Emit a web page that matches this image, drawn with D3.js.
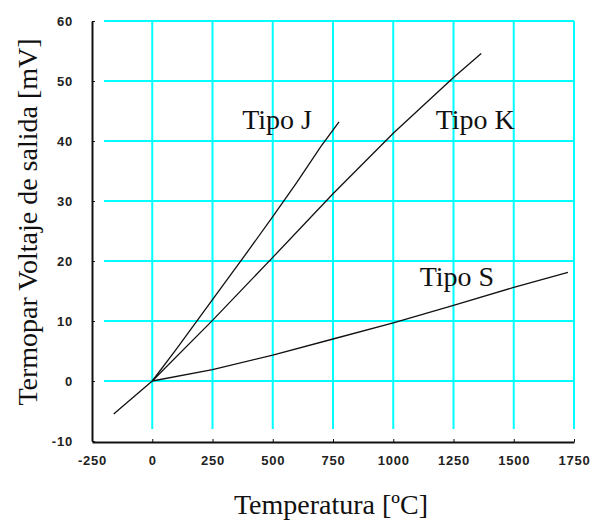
<!DOCTYPE html>
<html>
<head>
<meta charset="utf-8">
<script src="https://cdn.jsdelivr.net/npm/d3@7"></script>
<style>
  body { margin: 0; background: #fff; }
  .tick text { font-family: "Liberation Sans", Arial, sans-serif; font-size: 13px; font-weight: bold; fill: #222; letter-spacing: 0.8px; }
  .domain { stroke: #111; stroke-width: 2px; }
  .tick line { stroke: #111; }
</style>
</head>
<body>
<script>
// thermocouple output voltage (mV) vs temperature (°C)
var tipoJ = [[0, 0], [100, 5.3], [200, 10.8], [300, 16.3], [400, 21.8], [500, 27.4], [600, 33.1], [700, 39.1], [775, 43.2]];
var tipoK = [[-160, -5.5], [0, 0], [250, 10.1], [500, 20.6], [750, 31.2], [1000, 41.3], [1250, 50.6], [1365, 54.6]];
var tipoS = [[0, 0], [250, 1.9], [500, 4.3], [750, 7.0], [1000, 9.7], [1250, 12.6], [1500, 15.6], [1725, 18.1]];

var labels = [
  {text: "Tipo J", x: 518, y: 42.0},
  {text: "Tipo K", x: 1340, y: 42.0},
  {text: "Tipo S", x: 1264, y: 15.9}
];

var xticks = [-250, 0, 250, 500, 750, 1000, 1250, 1500, 1750];
var yticks = [-10, 0, 10, 20, 30, 40, 50, 60];
var xgrid = [0, 250, 500, 750, 1000, 1250, 1500, 1750];
var ygrid = [0, 10, 20, 30, 40, 50, 60];

var width = 597, height = 521;

var x = d3.scaleLinear().domain([-250, 1750]).range([92, 574]);
var y = d3.scaleLinear().domain([-10, 60]).range([441, 21]);

var svg = d3.select("body")
    .append("svg")
        .attr("width", width)
        .attr("height", height);

// cyan grid
svg.append("g")
    .selectAll("line")
    .data(ygrid)
    .enter()
    .append("line")
        .attr("x1", x(-200))
        .attr("x2", x(1750))
        .attr("y1", function(d) { return y(d); })
        .attr("y2", function(d) { return y(d); })
        .style("stroke", "#00ffff")
        .style("stroke-width", 2);

svg.append("g")
    .selectAll("line")
    .data(xgrid)
    .enter()
    .append("line")
        .attr("x1", function(d) { return x(d); })
        .attr("x2", function(d) { return x(d); })
        .attr("y1", y(60))
        .attr("y2", y(-8))
        .style("stroke", "#00ffff")
        .style("stroke-width", 2);

// axes, plain hyphen and no thousands separator like the original
var xAxis = d3.axisBottom(x).tickValues(xticks).tickFormat(String)
    .tickSizeInner(-3).tickSizeOuter(0).tickPadding(14);
var yAxis = d3.axisLeft(y).tickValues(yticks).tickFormat(String)
    .tickSizeInner(-3).tickSizeOuter(0).tickPadding(19);

svg.append("g").attr("transform", "translate(0," + (y(-10) + 1) + ")").call(xAxis);
svg.append("g").attr("transform", "translate(" + x(-250) + ",0)").call(yAxis);

// curves
var valueline = d3.line()
    .x(function(d) { return x(d[0]); })
    .y(function(d) { return y(d[1]); });

[tipoJ, tipoK, tipoS].forEach(function(s) {
    svg.append("path")
        .attr("d", valueline(s))
        .style("fill", "none")
        .style("stroke", "#111")
        .style("stroke-width", 1.3);
});

svg.append("g")
    .selectAll("text")
    .data(labels)
    .enter()
    .append("text")
        .attr("x", function(d) { return x(d.x); })
        .attr("y", function(d) { return y(d.y); })
        .style("text-anchor", "middle")
        .style("font-family", "'Liberation Serif', 'Times New Roman', serif")
        .style("font-size", "28px")
        .style("fill", "#111")
        .text(function(d) { return d.text; });

svg.append("text")      // x-axis title
    .attr("x", 331)
    .attr("y", 514)
    .style("text-anchor", "middle")
    .style("font-family", "'Liberation Serif', 'Times New Roman', serif")
    .style("font-size", "28px")
    .style("fill", "#111")
    .text("Temperatura [ºC]");

svg.append("text")      // y-axis title
    .attr("transform", "translate(37,222) rotate(-90)")
    .style("text-anchor", "middle")
    .style("font-family", "'Liberation Serif', 'Times New Roman', serif")
    .style("font-size", "28px")
    .style("fill", "#111")
    .text("Termopar Voltaje de salida [mV]");
</script>
</body>
</html>
